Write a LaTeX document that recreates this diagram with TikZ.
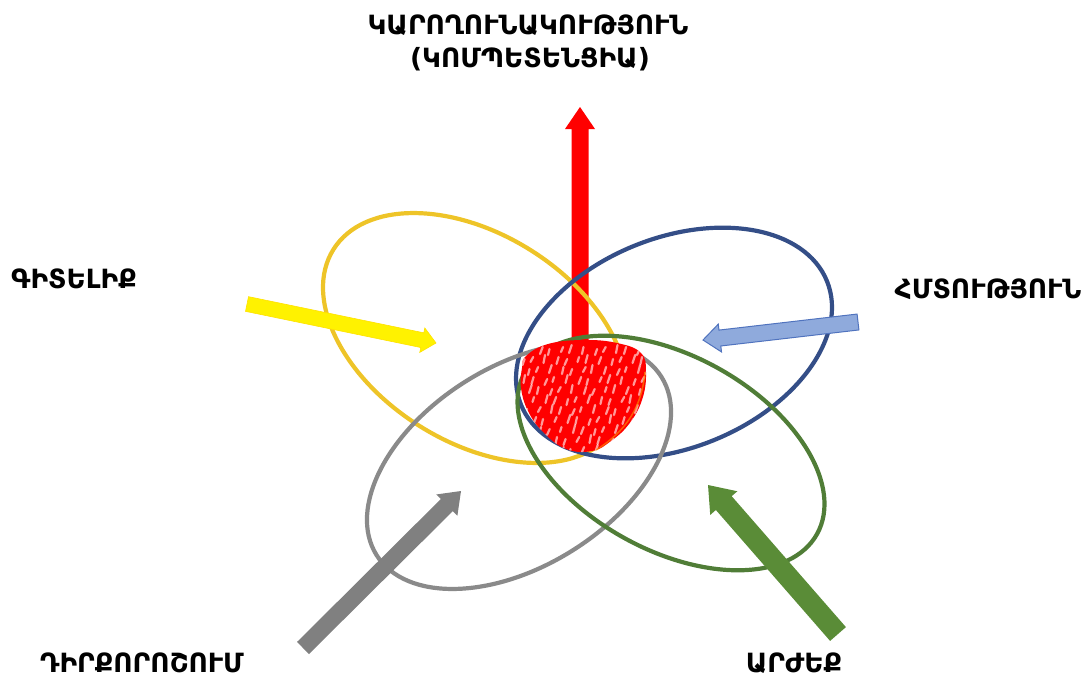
\documentclass[tikz,border=0pt]{standalone}
\usepackage{fontspec}
\setmainfont{DejaVu Sans}
\usetikzlibrary{calc}
\definecolor{ygold}{RGB}{238,196,40}
\definecolor{ebl}{RGB}{52,78,135}
\definecolor{egr}{RGB}{80,125,55}
\definecolor{egy}{RGB}{138,138,138}
\definecolor{ayel}{RGB}{255,242,0}
\definecolor{ablu}{RGB}{143,170,220}
\definecolor{abluo}{RGB}{80,115,190}
\definecolor{agry}{RGB}{128,128,128}
\definecolor{agrn}{RGB}{90,140,55}
\definecolor{ared}{RGB}{255,0,0}
\newcommand\blockarrow[6]{%
  \coordinate (ba-neck) at ($(#3)!#6!(#2)$);
  \path[#1] ($(#2)!#4!90:(#3)$) -- ($(ba-neck)!#4!-90:(#2)$) -- ($(ba-neck)!#5!-90:(#2)$) -- (#3) -- ($(ba-neck)!#5!90:(#2)$) -- ($(ba-neck)!#4!90:(#2)$) -- ($(#2)!#4!-90:(#3)$) -- cycle;}
\def\blobpath{plot[smooth cycle, tension=0.7] coordinates {(526,356) (548,344) (583,340) (617,343) (641,353) (646,373) (642,400) (629,424) (611,441) (592,451) (566,449) (543,432) (528,411) (521,388) (522,368)}}
\tikzset{
  lbl/.style={font=\fontsize{26.5}{30}\selectfont\bfseries, inner sep=0pt, anchor=base},
  ring/.style={line width=4.2pt}
}
\begin{document}
\begin{tikzpicture}[x=1pt,y=-1pt]
\useasboundingbox (0,0) rectangle (1083,677);
% arrow end points
\coordinate (rT) at (580,415); \coordinate (rH) at (580,107);
\coordinate (yT) at (247,304); \coordinate (yH) at (436,343);
\coordinate (bT) at (858,322); \coordinate (bH) at (703,340);
\coordinate (gT) at (303,648); \coordinate (gH) at (461,491);
\coordinate (nT) at (838,634); \coordinate (nH) at (708,485);
% red arrow
\blockarrow{fill=ared}{rT}{rH}{8.5pt}{15pt}{22pt}
% ellipses
\draw[ring, ygold, rotate around={-32:(475,338)}] (475,338) ellipse [x radius=167, y radius=104];
\draw[ring, ebl, rotate around={22:(674,343)}] (674,343) ellipse [x radius=165, y radius=105];
\draw[ring, egy, rotate around={32:(519,466)}] (519,466) ellipse [x radius=168, y radius=100];
\draw[ring, egr, rotate around={-29:(671,453)}] (671,453) ellipse [x radius=167, y radius=97];
% red blob
\fill[ared] \blobpath;
\begin{scope}
  \clip \blobpath;
  \foreach \i in {0,...,12}{
    \foreach \j in {0,...,10}{
      \draw[white, opacity=0.6, line width=2.2pt, line cap=round]
        ({516+\i*11+mod(\j,2)*5.5+mod(\i*7+\j*3,5)-2},{352+\j*10+mod(\i*5+\j*11,4)}) -- ++({1.5+mod(\i+\j,3)*0.6},{-5-mod(\i*3+\j,4)});
    }
  }
\end{scope}
\draw[orange, opacity=0.7, line width=1.5pt] (645,372) .. controls (642,405) and (628,430) .. (596,450);
% side arrows
\blockarrow{fill=ayel, draw=ayel!85!orange, line width=0.6pt}{yT}{yH}{7.5pt}{12.5pt}{14pt}
\blockarrow{fill=ablu, draw=abluo, line width=1pt}{bT}{bH}{8pt}{14pt}{17pt}
\blockarrow{fill=agry}{gT}{gH}{8.5pt}{15pt}{20pt}
\blockarrow{fill=agrn}{nT}{nH}{10.5pt}{18pt}{24pt}
% labels
\node[lbl] (t1) at (528,35) {ԿԱՐՈՂՈՒՆԱԿՈՒԹՅՈՒՆ};
\node[lbl] (t2) at (530,67) {(ԿՈՄՊԵՏԵՆՑԻԱ)};
\node[lbl] (g) at (74,288) {ԳԻՏԵԼԻՔ};
\node[lbl] (h) at (988,298) {ՀՄՏՈՒԹՅՈՒՆ};
\node[lbl] (d) at (142,672) {ԴԻՐՔՈՐՈՇՈՒՄ};
\node[lbl] (a) at (794,672) {ԱՐԺԵՔ};
\end{tikzpicture}
\end{document}
